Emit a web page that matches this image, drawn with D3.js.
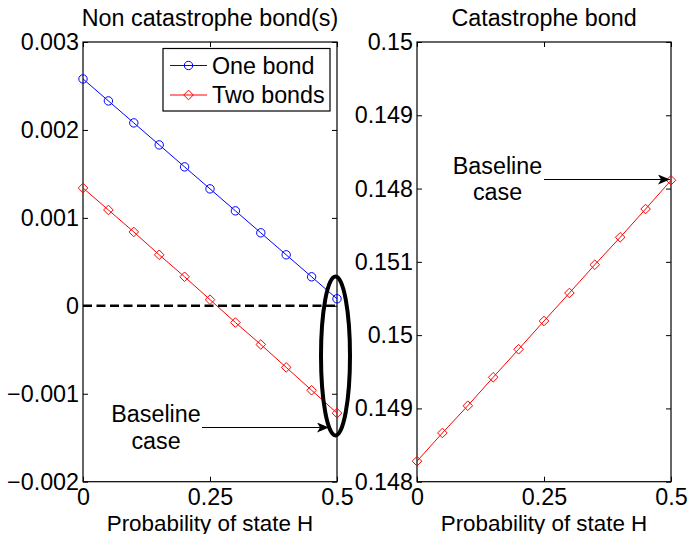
<!DOCTYPE html>
<html>
<head>
<meta charset="utf-8">
<script src="https://cdn.jsdelivr.net/npm/d3@7"></script>
<style>
  html, body { margin: 0; padding: 0; background: #fff; }
  svg { display: block; }
  text { font-family: "Liberation Sans", Arial, Helvetica, sans-serif; fill: #000; }
</style>
</head>
<body>
<svg id="chart" width="690" height="534"></svg>
<script>
// Probability of state H
const probH = [0, 0.05, 0.1, 0.15, 0.2, 0.25, 0.3, 0.35, 0.4, 0.45, 0.5];

// Non catastrophe bond(s)
const oneBond = [0.00258, 0.00233, 0.00208, 0.00183, 0.00158, 0.00133, 0.00108, 0.00083, 0.00058, 0.00033, 0.00008];
const twoBonds = [0.00134, 0.00109, 0.00084, 0.00058, 0.00033, 0.00007, -0.00019, -0.00044, -0.00070, -0.00096, -0.00122];

// Catastrophe bond, in units of the right-hand tick spacing
const catBond = [0.28, 0.665, 1.037, 1.425, 1.807, 2.193, 2.575, 2.961, 3.335, 3.721, 4.113];

const xTicks = [0, 0.25, 0.5];
const xTickLabels = ["0", "0.25", "0.5"];
const leftTicks = [-0.002, -0.001, 0, 0.001, 0.002, 0.003];
const leftTickLabels = ["\u22120.002", "\u22120.001", "0", "0.001", "0.002", "0.003"];
const rightTicks = [0, 1, 2, 3, 4, 5, 6];
const rightTickLabels = ["0.148", "0.149", "0.15", "0.151", "0.148", "0.149", "0.15"];

const legendNames = ["One bond", "Two bonds"];
const titles = ["Non catastrophe bond(s)", "Catastrophe bond"];
const xLabel = "Probability of state H";

const FONT = 23.3;
const svg = d3.select("#chart");

svg.append("defs").append("marker")
  .attr("id", "arrowhead")
  .attr("viewBox", "0 0 12 10")
  .attr("refX", 12).attr("refY", 5)
  .attr("markerWidth", 12).attr("markerHeight", 10)
  .attr("markerUnits", "userSpaceOnUse")
  .attr("orient", "auto")
  .append("path")
  .attr("d", "M0,0 L12,5 L0,10 L3,5 Z")
  .attr("fill", "#000");

const plotTop = 42, plotBottom = 481.7;
const panels = [
  { x0: 83, x1: 337, domain: [-0.002, 0.003], ticks: leftTicks, labels: leftTickLabels },
  { x0: 417, x1: 671, domain: [0, 6], ticks: rightTicks, labels: rightTickLabels }
];

panels.forEach((p, i) => {
  p.x = d3.scaleLinear().domain([0, 0.5]).range([p.x0, p.x1]);
  p.y = d3.scaleLinear().domain(p.domain).range([plotBottom, plotTop]);
  const g = svg.append("g");
  p.g = g;

  // inward ticks on all four sides
  const tickLen = 5;
  const axes = [
    [d3.axisBottom(p.x).tickValues(xTicks).tickFormat((d, k) => xTickLabels[k]), `translate(0,${plotBottom})`, 7],
    [d3.axisTop(p.x).tickValues(xTicks).tickFormat(""), `translate(0,${plotTop})`, 0],
    [d3.axisLeft(p.y).tickValues(p.ticks).tickFormat((d, k) => p.labels[k]), `translate(${p.x0},0)`, 4],
    [d3.axisRight(p.y).tickValues(p.ticks).tickFormat(""), `translate(${p.x1},0)`, 0]
  ];
  axes.forEach(([ax, tr, pad]) => {
    ax.tickSizeInner(-tickLen).tickSizeOuter(0).tickPadding(pad);
    const a = g.append("g").attr("transform", tr).call(ax);
    a.attr("font-family", null).attr("font-size", null);
    a.select(".domain").remove();
    a.selectAll(".tick line").attr("stroke", "#000").attr("stroke-width", 1);
    a.selectAll("text").attr("font-size", FONT).attr("fill", "#000");
  });

  // box
  g.append("rect")
    .attr("x", p.x0).attr("y", plotTop)
    .attr("width", p.x1 - p.x0).attr("height", plotBottom - plotTop)
    .attr("fill", "none").attr("stroke", "#000").attr("stroke-width", 1.2);

  // title
  g.append("text")
    .attr("x", (p.x0 + p.x1) / 2).attr("y", 26)
    .attr("text-anchor", "middle").attr("font-size", FONT)
    .text(titles[i]);

  // x label
  g.append("text")
    .attr("x", (p.x0 + p.x1) / 2).attr("y", 530.5)
    .attr("text-anchor", "middle").attr("font-size", 22.4)
    .text(xLabel);
});

function drawSeries(p, values, color, shape) {
  const pts = probH.map((x, k) => [p.x(x), p.y(values[k])]);
  p.g.append("path")
    .attr("d", d3.line()(pts))
    .attr("fill", "none").attr("stroke", color).attr("stroke-width", 1);
  p.g.selectAll(null).data(pts).join("path")
    .attr("transform", d => `translate(${d[0]},${d[1]})`)
    .attr("d", shape)
    .attr("fill", "none").attr("stroke", color).attr("stroke-width", 1);
}

const circleShape = d3.symbol().type(d3.symbolCircle).size(Math.PI * 4.2 * 4.2)();
const diamondShape = "M0,-4.8L4.8,0L0,4.8L-4.8,0Z";

const L = panels[0], R = panels[1];

// zero reference line
L.g.append("line")
  .attr("x1", L.x(0)).attr("x2", L.x(0.5))
  .attr("y1", L.y(0)).attr("y2", L.y(0))
  .attr("stroke", "#000").attr("stroke-width", 2.5)
  .attr("stroke-dasharray", "9,4.5");

drawSeries(L, oneBond, "#0000ff", circleShape);
drawSeries(L, twoBonds, "#ff0000", diamondShape);
drawSeries(R, catBond, "#ff0000", diamondShape);

// legend
const lg = L.g.append("g");
lg.append("rect")
  .attr("x", 163).attr("y", 48.5).attr("width", 167).attr("height", 62.5)
  .attr("fill", "#fff").attr("stroke", "#000").attr("stroke-width", 1.2);
[["#0000ff", circleShape], ["#ff0000", diamondShape]].forEach(([c, s], k) => {
  const yy = 65.5 + k * 29.5;
  lg.append("line").attr("x1", 170).attr("x2", 207).attr("y1", yy).attr("y2", yy)
    .attr("stroke", c).attr("stroke-width", 1);
  lg.append("path").attr("transform", `translate(188.5,${yy})`).attr("d", s)
    .attr("fill", "none").attr("stroke", c).attr("stroke-width", 1);
  lg.append("text").attr("x", 212).attr("y", yy).attr("dy", "0.36em")
    .attr("font-size", FONT).text(legendNames[k]);
});

// highlight around the baseline end points
L.g.append("ellipse")
  .attr("cx", L.x(0.5) - 1.5).attr("cy", (L.y(oneBond[10]) + L.y(twoBonds[10])) / 2)
  .attr("rx", 14.5).attr("ry", 79.5)
  .attr("fill", "none").attr("stroke", "#000").attr("stroke-width", 4);

// baseline annotations
function baseline(cx, ty, ax0, ax1, ay) {
  svg.append("text").attr("x", cx).attr("y", ty).attr("text-anchor", "middle")
    .attr("font-size", FONT).text("Baseline");
  svg.append("text").attr("x", cx).attr("y", ty + 26.5).attr("text-anchor", "middle")
    .attr("font-size", FONT).text("case");
  svg.append("line").attr("x1", ax0).attr("x2", ax1).attr("y1", ay).attr("y2", ay)
    .attr("stroke", "#000").attr("stroke-width", 1).attr("marker-end", "url(#arrowhead)");
}
baseline(156, 422, 202, 329, 427.5);
baseline(497.5, 173.5, 544, R.x(0.5) - 1, 179.5);
</script>
</body>
</html>
